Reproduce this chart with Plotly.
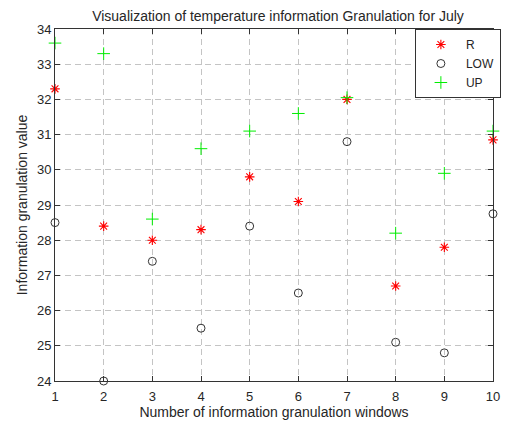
import plotly.graph_objects as go

windows = [1, 2, 3, 4, 5, 6, 7, 8, 9, 10]
R = [32.3, 28.4, 28.0, 28.3, 29.8, 29.1, 32.0, 26.7, 27.8, 30.85]
LOW = [28.5, 24.0, 27.4, 25.5, 28.4, 26.5, 30.8, 25.1, 24.8, 28.75]
UP = [33.6, 33.3, 28.6, 30.6, 31.1, 31.6, 32.05, 28.2, 29.9, 31.1]

fig = go.Figure()
fig.add_trace(go.Scatter(x=windows, y=R, mode="markers", name="R", cliponaxis=False,
                         marker=dict(symbol="asterisk-open", size=8, color="#ff0000",
                                     line=dict(color="#ff0000", width=1.1))))
fig.add_trace(go.Scatter(x=windows, y=LOW, mode="markers", name="LOW", cliponaxis=False,
                         marker=dict(symbol="circle-open", size=8, color="#333333",
                                     line=dict(color="#333333", width=1))))
fig.add_trace(go.Scatter(x=windows, y=UP, mode="markers", name="UP", cliponaxis=False,
                         marker=dict(symbol="cross-thin-open", size=9, color="#00ee00",
                                     line=dict(color="#00ee00", width=1))))

axis_common = dict(showline=True, linecolor="#333333", linewidth=1, mirror="ticks",
                   ticks="inside", ticklen=5, tickcolor="#333333",
                   showgrid=True, gridcolor="#c4c4c4", griddash="6px,4px", gridwidth=1,
                   zeroline=False, tickfont=dict(size=13, color="#262626"))

fig.update_layout(
    width=510, height=426,
    margin=dict(l=55, r=9, t=29, b=45),
    paper_bgcolor="white", plot_bgcolor="white",
    font=dict(family="Liberation Sans, Arial, sans-serif", color="#262626"),
    title=dict(text="Visualization of temperature information Granulation for July",
               x=(55 + 501) / 2 / 510, xanchor="center", y=1 - 16 / 426, yanchor="middle",
               font=dict(size=14, color="#262626")),
    xaxis=dict(range=[1, 10], tickvals=windows, ticklabelstandoff=3,
               title=dict(text="Number of information granulation windows",
               font=dict(size=14), standoff=4), **axis_common),
    yaxis=dict(range=[24, 34], dtick=1, title=dict(text="Information granulation value",
               font=dict(size=14), standoff=6), **axis_common),
    legend=dict(x=1.018, xanchor="right", y=1, yanchor="top", bgcolor="white",
                bordercolor="#333333", borderwidth=1, font=dict(size=12),
                itemwidth=40, tracegroupgap=0),
    showlegend=True,
)

fig.write_html("out.html")
